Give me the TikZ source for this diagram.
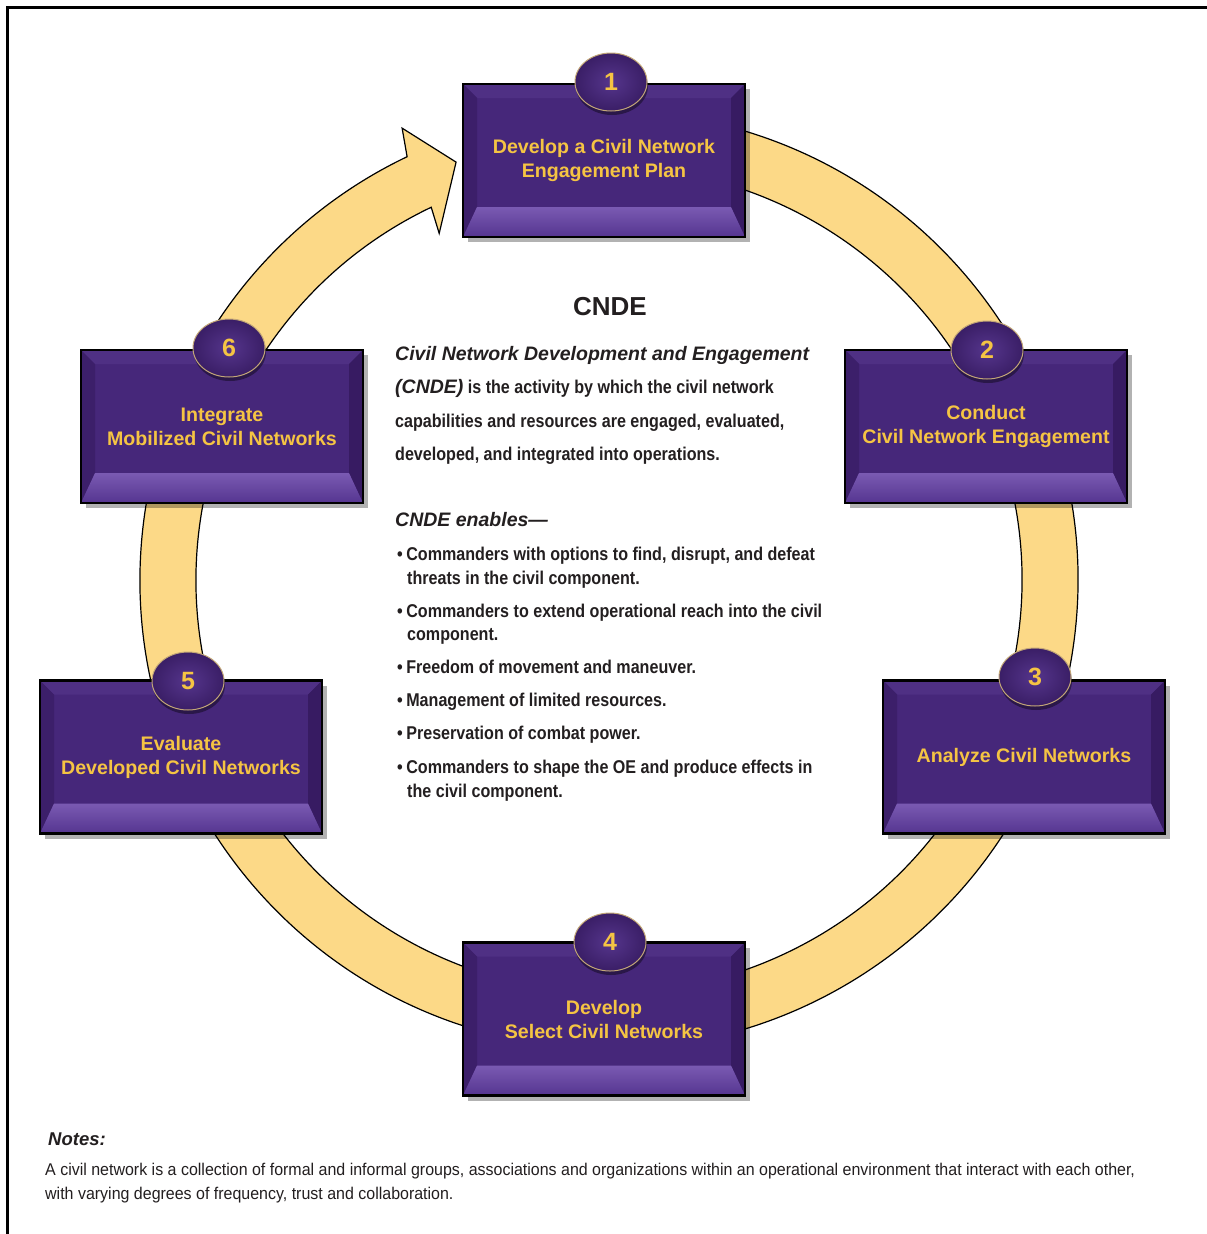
\documentclass[tikz,border=0pt]{standalone}
\usepackage{fontspec}
\setmainfont{Liberation Sans}
\newfontfamily\narrowfont[FakeStretch=0.87]{Liberation Sans}
\newfontfamily\notefont[FakeStretch=0.94]{Liberation Sans}
\usetikzlibrary{shapes.geometric,shadows,calc}
\definecolor{ringyel}{HTML}{FCD987}
\definecolor{txtyel}{HTML}{F5C443}
\definecolor{boxmid}{HTML}{46277A}
\definecolor{bevtop}{HTML}{4F3084}
\definecolor{bevside}{HTML}{3C1F6A}
\definecolor{bevright}{HTML}{371B62}
\definecolor{bevbotA}{HTML}{7A5AB2}
\definecolor{bevbotB}{HTML}{553590}
\definecolor{diskin}{HTML}{55358C}
\definecolor{diskout}{HTML}{3A1E66}
\definecolor{diskrim}{HTML}{C2A677}
\definecolor{inkdark}{HTML}{231F20}
\tikzset{
  stepbox/.style={draw=black, line width=2.2pt, fill=boxmid,
    minimum width=282pt, minimum height=153pt, inner sep=0pt, align=center,
    text=txtyel, font=\fontsize{19.6}{24}\selectfont\bfseries,
    drop shadow={shadow xshift=5pt, shadow yshift=-5pt, opacity=0.3, fill=black},
    path picture={
      \fill[bevtop] (path picture bounding box.north west) -- (path picture bounding box.north east)
        -- ([xshift=-14pt,yshift=-14pt]path picture bounding box.north east)
        -- ([xshift=14pt,yshift=-14pt]path picture bounding box.north west) -- cycle;
      \fill[bevside] (path picture bounding box.north west) -- ([xshift=14pt,yshift=-14pt]path picture bounding box.north west)
        -- ([xshift=14pt,yshift=30pt]path picture bounding box.south west) -- (path picture bounding box.south west) -- cycle;
      \fill[bevright] (path picture bounding box.north east) -- ([xshift=-14pt,yshift=-14pt]path picture bounding box.north east)
        -- ([xshift=-14pt,yshift=30pt]path picture bounding box.south east) -- (path picture bounding box.south east) -- cycle;
      \shade[top color=bevbotA, bottom color=bevbotB] (path picture bounding box.south west) -- (path picture bounding box.south east)
        -- ([xshift=-14pt,yshift=30pt]path picture bounding box.south east)
        -- ([xshift=14pt,yshift=30pt]path picture bounding box.south west) -- cycle;
    }},
  numdisk/.style={ellipse, minimum width=72pt, minimum height=58pt, inner sep=0pt,
    draw=diskrim, line width=1pt, inner color=diskin, outer color=diskout,
    text=txtyel, font=\fontsize{25}{25}\selectfont\bfseries,
    drop shadow={shadow xshift=1pt, shadow yshift=-4pt, opacity=0.4, fill=black}},
  ringband/.style={fill=ringyel, draw=black, line width=1.2pt, line join=miter},
  tline/.style={anchor=base west, inner sep=0pt, text=inkdark},
  heading/.style={tline, font=\fontsize{19.5}{19.5}\selectfont\bfseries\itshape},
  bodyline/.style={tline, font=\narrowfont\fontsize{18.5}{18.5}\selectfont\bfseries},
  noteline/.style={tline, font=\notefont\fontsize{17}{17}\selectfont},
}
\begin{document}
\begin{tikzpicture}[x=1pt,y=1pt]
\useasboundingbox (0,0) rectangle (1207,-1234);
\fill[white] (0,0) rectangle (1207,-1234);
\draw[line width=2.6pt, line cap=rect] (7.5,-1240) -- (7.5,-7.5) -- (1212,-7.5);

% ring with arrowhead
\begin{scope}[shift={(609,-580)}]
  \path[ringband]
    (80:469) arc[start angle=80, end angle=-244.5, radius=469]
    -- (114.6:497) -- (110.1:445) -- (116.1:386) -- (115.5:413)
    arc[start angle=-244.5, end angle=80, radius=413] -- cycle;
\end{scope}

% step boxes
\node[stepbox] (b1) at (604,-160.5) {Develop a Civil Network\\Engagement Plan};
\node[stepbox] (b2) at (986,-426.5) {Conduct\\Civil Network Engagement};
\node[stepbox] (b3) at (1024,-757) {Analyze Civil Networks};
\node[stepbox] (b4) at (604,-1019) {Develop\\Select Civil Networks};
\node[stepbox] (b5) at (181,-757) {Evaluate\\Developed Civil Networks};
\node[stepbox] (b6) at (222,-426.5) {Integrate\\Mobilized Civil Networks};

% number disks
\node[numdisk] (n1) at (611,-82) {1};
\node[numdisk] (n2) at (987,-350) {2};
\node[numdisk] (n3) at (1035,-677) {3};
\node[numdisk] (n4) at (610,-942) {4};
\node[numdisk] (n5) at (188,-681) {5};
\node[numdisk] (n6) at (229,-348) {6};

% central text
\node[anchor=base, inner sep=0pt, text=inkdark, font=\fontsize{26}{26}\selectfont\bfseries] (title) at (610,-315) {CNDE};
\node[heading] (p1) at (395,-360) {Civil Network Development and Engagement};
\node[tline] (p2) at (395,-393) {{\fontsize{19.5}{19.5}\selectfont\bfseries\itshape (CNDE)}{\narrowfont\fontsize{18.5}{18.5}\selectfont\bfseries{} is the activity by which the civil network}};
\node[bodyline] (p3) at (395,-427) {capabilities and resources are engaged, evaluated,};
\node[bodyline] (p4) at (395,-460) {developed, and integrated into operations.};

\node[heading] (e0) at (395,-526) {CNDE enables—};
\node[bodyline] (e1a) at (397,-560) {•\hspace{3.5pt}Commanders with options to find, disrupt, and defeat};
\node[bodyline] (e1b) at (407,-584) {threats in the civil component.};
\node[bodyline] (e2a) at (397,-617) {•\hspace{3.5pt}Commanders to extend operational reach into the civil};
\node[bodyline] (e2b) at (407,-640) {component.};
\node[bodyline] (e3) at (397,-673) {•\hspace{3.5pt}Freedom of movement and maneuver.};
\node[bodyline] (e4) at (397,-706) {•\hspace{3.5pt}Management of limited resources.};
\node[bodyline] (e5) at (397,-739) {•\hspace{3.5pt}Preservation of combat power.};
\node[bodyline] (e6a) at (397,-773) {•\hspace{3.5pt}Commanders to shape the OE and produce effects in};
\node[bodyline] (e6b) at (407,-797) {the civil component.};

% notes
\node[tline, font=\fontsize{18.5}{18.5}\selectfont\bfseries\itshape] (notes) at (48,-1145) {Notes:};
\node[noteline] (nl1) at (45,-1175) {A civil network is a collection of formal and informal groups, associations and organizations within an operational environment that interact with each other,};
\node[noteline] (nl2) at (45,-1199) {with varying degrees of frequency, trust and collaboration.};
\end{tikzpicture}
\end{document}
